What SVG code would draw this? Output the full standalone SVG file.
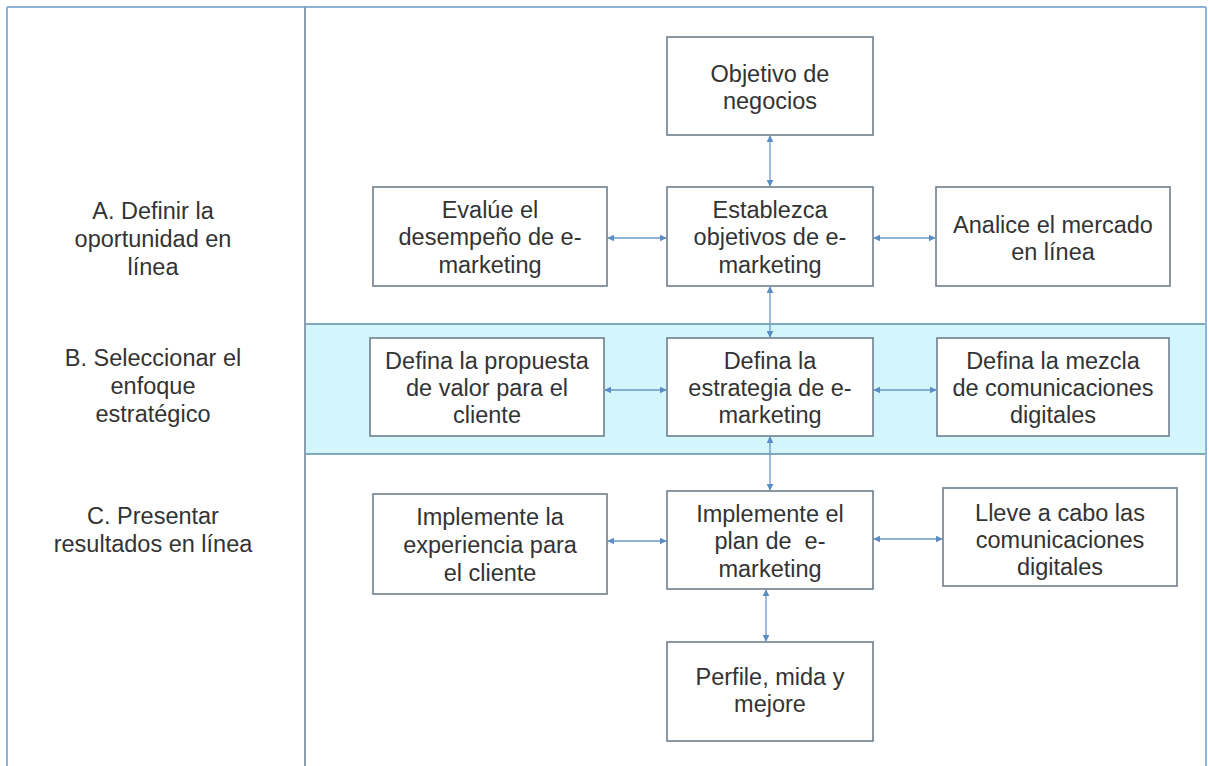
<svg xmlns="http://www.w3.org/2000/svg" width="1209" height="766" viewBox="0 0 1209 766">
<style>
.bx{fill:#ffffff;stroke:#6f7f8e;stroke-width:1.6}
.t{font-family:"Liberation Sans",Arial,sans-serif;font-size:23.5px;fill:#333333;text-anchor:middle}
.c{stroke:#6a98c8;stroke-width:1.3;fill:none;marker-start:url(#a);marker-end:url(#a)}
</style>
<defs>
<marker id="a" viewBox="0 0 10 10" refX="9" refY="5" markerWidth="7" markerHeight="7" orient="auto-start-reverse" markerUnits="userSpaceOnUse">
<path d="M0,0 L10,5 L0,10 z" fill="#5b8dc4"/>
</marker>
</defs>
<rect x="0" y="0" width="1209" height="766" fill="#ffffff"/>
<g id="frame">
<rect x="306" y="324" width="901" height="130" fill="#d3f6fc" stroke="none"/>
<line x1="306" y1="324" x2="1207" y2="324" stroke="#5d8ea6" stroke-width="1.6"/>
<line x1="306" y1="454" x2="1207" y2="454" stroke="#5d8ea6" stroke-width="1.6"/>
<line x1="7" y1="7" x2="1206" y2="7" stroke="#8fb3d6" stroke-width="2"/>
<line x1="7" y1="7" x2="7" y2="766" stroke="#8fb3d6" stroke-width="2"/>
<line x1="1206" y1="7" x2="1206" y2="766" stroke="#8fb3d6" stroke-width="2"/>
<line x1="305" y1="7" x2="305" y2="766" stroke="#7f95aa" stroke-width="1.8"/>
</g>
<g id="labels">
<text class="t" x="153" y="219"><tspan x="153">A. Definir la</tspan><tspan x="153" dy="28">oportunidad en</tspan><tspan x="153" dy="28">línea</tspan></text>
<text class="t" x="153" y="366"><tspan x="153">B. Seleccionar el</tspan><tspan x="153" dy="28">enfoque</tspan><tspan x="153" dy="28">estratégico</tspan></text>
<text class="t" x="153" y="524"><tspan x="153">C. Presentar</tspan><tspan x="153" dy="28">resultados en línea</tspan></text>
</g>
<g id="connectors">
<line class="c" x1="770" y1="136" x2="770" y2="186"/>
<line class="c" x1="608" y1="238" x2="666" y2="238"/>
<line class="c" x1="874" y1="238" x2="935" y2="238"/>
<line class="c" x1="770" y1="287" x2="770" y2="337"/>
<line class="c" x1="605" y1="390" x2="666" y2="390"/>
<line class="c" x1="874" y1="390" x2="936" y2="390"/>
<line class="c" x1="770" y1="437" x2="770" y2="490"/>
<line class="c" x1="608" y1="541" x2="666" y2="541"/>
<line class="c" x1="874" y1="539" x2="942" y2="539"/>
<line class="c" x1="766" y1="590" x2="766" y2="641"/>
</g>
<g id="n1"><rect class="bx" x="667" y="37" width="206" height="98"/><text class="t" x="770" y="82"><tspan x="770">Objetivo de</tspan><tspan x="770" dy="27">negocios</tspan></text></g>
<g id="n2"><rect class="bx" x="373" y="187" width="234" height="99"/><text class="t" x="490" y="218"><tspan x="490">Evalúe el</tspan><tspan x="490" dy="27">desempeño de e-</tspan><tspan x="490" dy="28">marketing</tspan></text></g>
<g id="n3"><rect class="bx" x="667" y="187" width="206" height="99"/><text class="t" x="770" y="218"><tspan x="770">Establezca</tspan><tspan x="770" dy="27">objetivos de e-</tspan><tspan x="770" dy="28">marketing</tspan></text></g>
<g id="n4"><rect class="bx" x="936" y="187" width="234" height="99"/><text class="t" x="1053" y="233"><tspan x="1053">Analice el mercado</tspan><tspan x="1053" dy="27">en línea</tspan></text></g>
<g id="n5"><rect class="bx" x="370" y="338" width="234" height="98"/><text class="t" x="487" y="369"><tspan x="487">Defina la propuesta</tspan><tspan x="487" dy="27">de valor para el</tspan><tspan x="487" dy="27">cliente</tspan></text></g>
<g id="n6"><rect class="bx" x="667" y="338" width="206" height="98"/><text class="t" x="770" y="369"><tspan x="770">Defina la</tspan><tspan x="770" dy="27">estrategia de e-</tspan><tspan x="770" dy="27">marketing</tspan></text></g>
<g id="n7"><rect class="bx" x="937" y="338" width="232" height="98"/><text class="t" x="1053" y="369"><tspan x="1053">Defina la mezcla</tspan><tspan x="1053" dy="27">de comunicaciones</tspan><tspan x="1053" dy="27">digitales</tspan></text></g>
<g id="n8"><rect class="bx" x="373" y="494" width="234" height="100"/><text class="t" x="490" y="525"><tspan x="490">Implemente la</tspan><tspan x="490" dy="28">experiencia para</tspan><tspan x="490" dy="28">el cliente</tspan></text></g>
<g id="n9"><rect class="bx" x="667" y="491" width="206" height="98"/><text class="t" x="770" y="522"><tspan x="770">Implemente el</tspan><tspan x="770" dy="27" xml:space="preserve">plan de  e-</tspan><tspan x="770" dy="28">marketing</tspan></text></g>
<g id="n10"><rect class="bx" x="943" y="488" width="234" height="98"/><text class="t" x="1060" y="521"><tspan x="1060">Lleve a cabo las</tspan><tspan x="1060" dy="27">comunicaciones</tspan><tspan x="1060" dy="27">digitales</tspan></text></g>
<g id="n11"><rect class="bx" x="667" y="642" width="206" height="99"/><text class="t" x="770" y="685"><tspan x="770">Perfile, mida y</tspan><tspan x="770" dy="27">mejore</tspan></text></g>
</svg>
